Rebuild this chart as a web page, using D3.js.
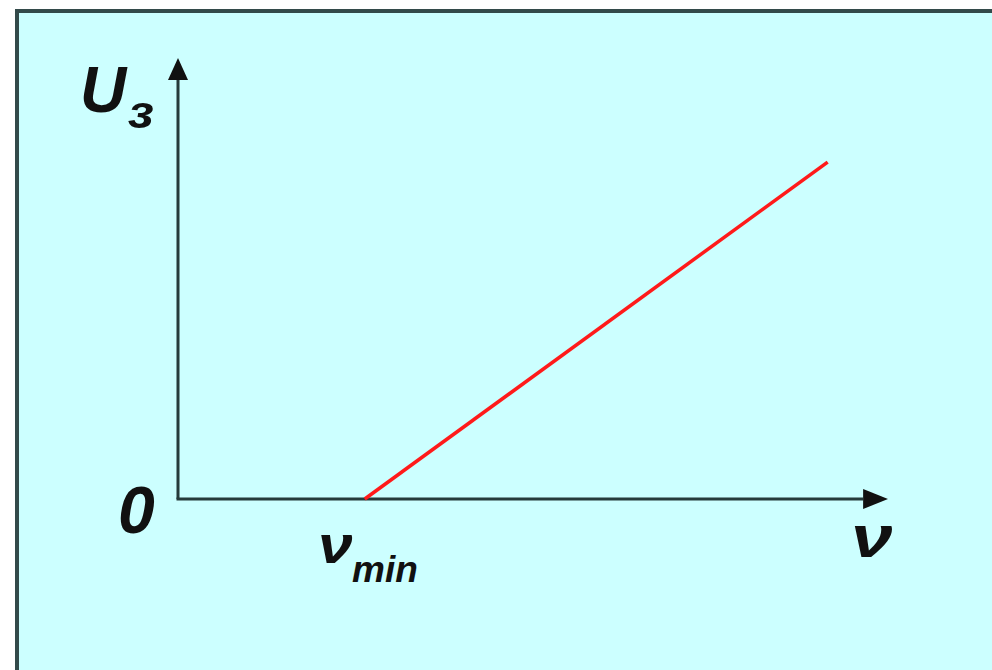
<!DOCTYPE html>
<html>
<head>
<meta charset="utf-8">
<script src="https://cdn.jsdelivr.net/npm/d3@7"></script>
<style>
html,body{margin:0;padding:0;background:#fff;}
svg{display:block;}
</style>
</head>
<body>
<script>
// Data (abstract units)
const nuValues = [2.63, 9.15];   // ν from ν_min to end of line
const uValues  = [0, 7.64];      // U_з
const xDomain = [0, 10];
const yDomain = [0, 10];
const originLabel = "0";
const xLabel = "ν";
const xMinLabel = "ν";
const xMinSub = "min";
const yLabel = "U";
const ySub = "з";

const W = 992, H = 670;
const svg = d3.select("body").append("svg").attr("width", W).attr("height", H);

// background panel with border (top + left)
svg.append("rect").attr("x", 15).attr("y", 9).attr("width", W - 15).attr("height", H - 9).attr("fill", "#334a4a");
svg.append("rect").attr("x", 19).attr("y", 13).attr("width", W - 19).attr("height", H - 13).attr("fill", "#ccffff");

const x = d3.scaleLinear().domain(xDomain).range([178, 888]);
const y = d3.scaleLinear().domain(yDomain).range([499, 58]);

const axisColor = "#253b3b";
// y axis
svg.append("line").attr("x1", x(0)).attr("x2", x(0)).attr("y1", y(0)).attr("y2", y(9.5))
  .attr("stroke", axisColor).attr("stroke-width", 3);
svg.append("path").attr("d", d3.line()([[x(0), y(10)], [x(0) - 10, y(9.5)], [x(0) + 10, y(9.5)]]) + "Z")
  .attr("fill", "#111");
// x axis
svg.append("line").attr("x1", x(0) - 1.5).attr("x2", x(9.65)).attr("y1", y(0)).attr("y2", y(0))
  .attr("stroke", axisColor).attr("stroke-width", 3);
svg.append("path").attr("d", d3.line()([[x(10), y(0)], [x(9.65), y(0) - 10], [x(9.65), y(0) + 10]]) + "Z")
  .attr("fill", "#111");

// red line
const pts = nuValues.map((v, i) => [x(v), y(uValues[i])]);
svg.append("path").attr("d", d3.line()(pts)).attr("stroke", "#ff1a1a").attr("stroke-width", 3.5).attr("fill", "none");

const font = "'Liberation Sans', Arial, sans-serif";
function label(tx, ty, txt, size, sx) {
  sx = sx || 1;
  return svg.append("text").attr("transform", `translate(${tx},${ty}) scale(${sx},1)`).text(txt)
    .attr("font-family", font).attr("font-weight", "bold").attr("font-style", "italic")
    .attr("font-size", size).attr("fill", "#111");
}
// U_з
label(80, 112, yLabel, 64);
label(128, 128, ySub, 46, 1.1);
// 0
label(118, 533, originLabel, 66);
// ν
label(851, 557, xLabel, 60, 1.25);
// ν_min
label(318, 563, xMinLabel, 52, 1.2);
label(352, 582, xMinSub, 37);
</script>
</body>
</html>
